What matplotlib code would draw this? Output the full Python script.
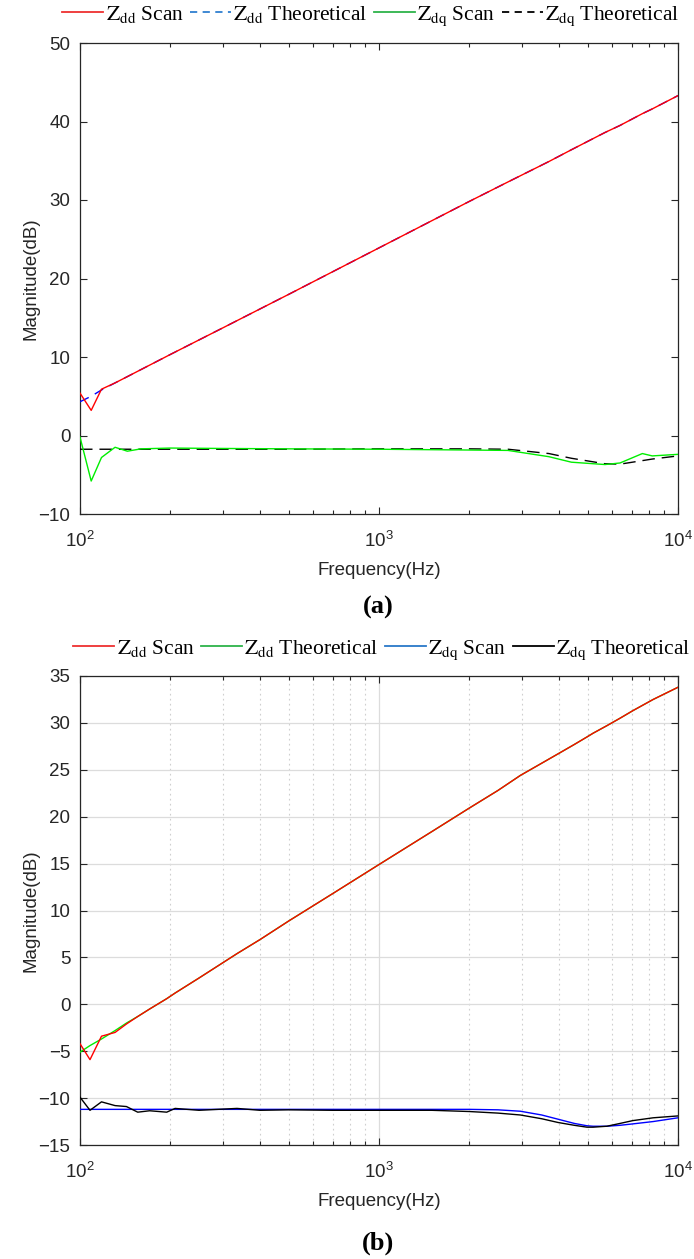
import matplotlib
matplotlib.use("Agg")
import matplotlib.pyplot as plt
from matplotlib.lines import Line2D
from matplotlib.ticker import LogLocator, NullFormatter, FixedLocator

plt.rcParams['font.family'] = ['Liberation Sans', 'DejaVu Sans']
plt.rcParams['mathtext.fontset'] = 'custom'
plt.rcParams['mathtext.rm'] = 'Liberation Sans'
plt.rcParams['mathtext.it'] = 'Liberation Sans:italic'

# ---- panel (a) data ----
freq_a = [100, 109, 118, 131, 144, 160, 200, 300, 500, 1000, 2000, 2700,
          3700, 4400, 5700, 6400, 7600, 8200, 10000]
zdd_scan_a = [5.4, 3.2, 5.9, 6.7, 7.5, 8.4, 10.3, 13.7, 18.0, 23.9, 29.8, 32.3,
              34.9, 36.4, 38.6, 39.5, 41.0, 41.6, 43.3]
zdd_theo_a = [4.3, 5.0, 5.8, 6.7, 7.5, 8.4, 10.3, 13.7, 18.0, 23.9, 29.8, 32.3,
              34.9, 36.4, 38.6, 39.5, 41.0, 41.6, 43.3]
zdq_scan_a = [-0.2, -5.8, -2.8, -1.5, -2.0, -1.7, -1.6, -1.65, -1.7, -1.75, -1.85,
              -1.9, -2.7, -3.4, -3.7, -3.5, -2.3, -2.6, -2.4]
zdq_theo_a = [-1.75, -1.75, -1.75, -1.75, -1.75, -1.75, -1.75, -1.75, -1.75, -1.7,
              -1.7, -1.75, -2.3, -2.9, -3.6, -3.65, -3.2, -3.0, -2.6]

# ---- panel (b) data ----
freq_b = [100, 108, 118, 131, 143, 156, 171, 195, 208, 250, 335, 400, 500, 700,
          1000, 1500, 2000, 2500, 2970, 3500, 3970, 4500, 4960, 5200, 5780, 6400,
          7060, 8260, 10000]
zdd_theo_b = [-5.1, -4.4, -3.7, -2.8, -2.0, -1.3, -0.5, 0.6, 1.2, 2.8, 5.4, 6.9,
              8.9, 11.8, 14.9, 18.4, 20.9, 22.8, 24.4, 25.7, 26.7, 27.7, 28.5,
              28.9, 29.7, 30.5, 31.3, 32.5, 33.8]
zdd_scan_b = [-4.2, -5.9, -3.4, -3.0, -2.1, -1.3, -0.5, 0.6, 1.2, 2.8, 5.4, 6.9,
              8.9, 11.8, 14.9, 18.4, 20.9, 22.8, 24.4, 25.7, 26.7, 27.7, 28.5,
              28.9, 29.7, 30.5, 31.3, 32.5, 33.8]
zdq_scan_b = [-11.2, -11.2, -11.2, -11.2, -11.2, -11.2, -11.2, -11.2, -11.2, -11.2,
              -11.2, -11.2, -11.2, -11.2, -11.2, -11.2, -11.2, -11.25, -11.4,
              -11.8, -12.25, -12.7, -12.95, -13.0, -13.0, -12.9, -12.75, -12.5, -12.1]
zdq_theo_b = [-9.9, -11.3, -10.4, -10.8, -10.9, -11.5, -11.35, -11.5, -11.1, -11.3,
              -11.1, -11.3, -11.25, -11.3, -11.3, -11.3, -11.43, -11.6, -11.8,
              -12.2, -12.6, -12.9, -13.1, -13.1, -13.0, -12.7, -12.4, -12.1, -11.9]

legend_a = [r'$\mathrm{Z}_{\mathrm{dd}}$ Scan', r'$\mathrm{Z}_{\mathrm{dd}}$ Theoretical',
            r'$\mathrm{Z}_{\mathrm{dq}}$ Scan', r'$\mathrm{Z}_{\mathrm{dq}}$ Theoretical']
legend_b = legend_a

AX_COLOR = '#262626'
FS = 13.5

fig = plt.figure(figsize=(6.94, 12.59), dpi=100)
ax_a = fig.add_axes([80 / 694, 1 - 514 / 1259, 598 / 694, 471 / 1259])
ax_b = fig.add_axes([80 / 694, 1 - 1145 / 1259, 598 / 694, 469 / 1259])


def style_axes(ax, ylim, yticks, grid):
    ax.set_xscale('log')
    ax.set_xlim(100, 10000)
    ax.set_ylim(*ylim)
    ax.set_yticks(yticks)
    ax.set_yticklabels([f'{v}'.replace('-', '\u2212') for v in yticks])
    ax.xaxis.set_major_locator(FixedLocator([100, 1000, 10000]))
    ax.set_xticklabels([r'$10^{2}$', r'$10^{3}$', r'$10^{4}$'])
    ax.xaxis.set_minor_locator(LogLocator(base=10, subs=range(2, 10)))
    ax.xaxis.set_minor_formatter(NullFormatter())
    ax.tick_params(which='both', direction='in', top=True, right=True,
                   colors=AX_COLOR, labelsize=FS, width=0.8)
    ax.tick_params(which='major', length=5)
    ax.tick_params(which='minor', length=3)
    ax.tick_params(axis='x', pad=12)
    ax.tick_params(axis='y', pad=7)
    for s in ax.spines.values():
        s.set_color(AX_COLOR)
        s.set_linewidth(0.9)
    ax.set_xlabel('Frequency(Hz)', fontsize=FS, color=AX_COLOR, labelpad=8)
    ax.set_ylabel('Magnitude(dB)', fontsize=FS, color=AX_COLOR, labelpad=-1)
    if grid:
        ax.grid(True, which='major', axis='y', color='#dcdcdc', lw=0.9)
        ax.grid(True, which='major', axis='x', color='#dcdcdc', lw=0.9)
        ax.grid(True, which='minor', axis='x', color='#cfcfcf', lw=0.8,
                linestyle=(0, (1.5, 3)))
        ax.set_axisbelow(True)


# panel (a)
ax_a.plot(freq_a, zdd_scan_a, color='#ff0000', lw=1.0, zorder=4)
ax_a.plot(freq_a, zdd_theo_a, color='#0000ff', lw=1.0, ls=(0, (7, 5)), zorder=3)
ax_a.plot(freq_a, zdq_theo_a, color='#000000', lw=1.0, ls=(0, (9, 5)), zorder=3)
ax_a.plot(freq_a, zdq_scan_a, color='#00ee00', lw=1.0, zorder=4)
style_axes(ax_a, (-10, 50), [-10, 0, 10, 20, 30, 40, 50], grid=False)

# panel (b)
ax_b.plot(freq_b, zdd_theo_b, color='#00ee00', lw=1.0, zorder=3)
ax_b.plot(freq_b, zdd_scan_b, color='#ff0000', lw=1.0, zorder=4)
ax_b.plot(freq_b, zdq_scan_b, color='#0000ff', lw=1.0, zorder=3)
ax_b.plot(freq_b, zdq_theo_b, color='#000000', lw=1.0, zorder=4)
style_axes(ax_b, (-15, 35), [-15, -10, -5, 0, 5, 10, 15, 20, 25, 30, 35], grid=True)

# legends drawn above each panel
handles_a = [Line2D([], [], color='#ee3030', lw=1.3),
             Line2D([], [], color='#2f7fd0', lw=1.3, ls=(0, (4, 3))),
             Line2D([], [], color='#2db34a', lw=1.3),
             Line2D([], [], color='#000000', lw=1.3, ls=(0, (4, 3)))]
handles_b = [Line2D([], [], color='#ee3030', lw=1.3),
             Line2D([], [], color='#2db34a', lw=1.3),
             Line2D([], [], color='#2a78c8', lw=1.3),
             Line2D([], [], color='#000000', lw=1.3)]

for handles, labels, xcen, ycen in ((handles_a, legend_a, 371, 16),
                                    (handles_b, legend_b, 382, 650)):
    leg = fig.legend(handles, labels, loc='center', ncol=4, frameon=False,
                     bbox_to_anchor=(xcen / 694, 1 - ycen / 1259),
                     prop={'family': 'Liberation Serif', 'size': 15.5},
                     handlelength=1.9, handletextpad=0.1, columnspacing=0.3,
                     borderpad=0)
    for t in leg.get_texts():
        t.set_math_fontfamily('stix')

fig.text(378 / 694, 1 - 607 / 1259, '(a)', ha='center', va='center',
         fontsize=19, family='Liberation Serif', fontweight='bold')
fig.text(378 / 694, 1 - 1243 / 1259, '(b)', ha='center', va='center',
         fontsize=19, family='Liberation Serif', fontweight='bold')

fig.savefig('out.png', dpi=100)
